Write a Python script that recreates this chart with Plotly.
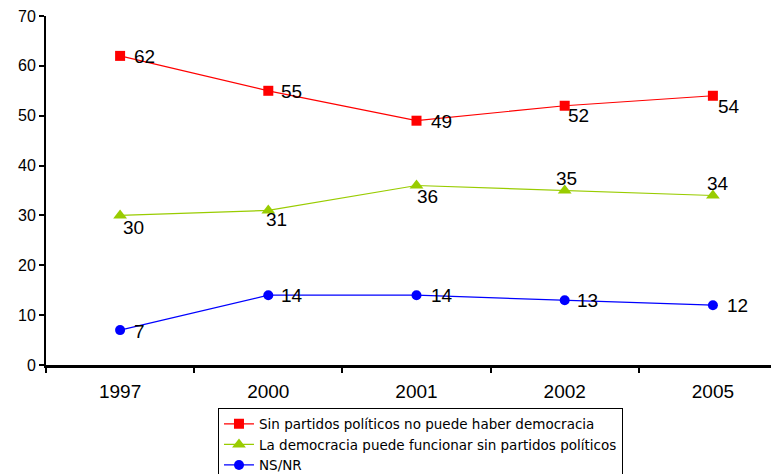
import plotly.graph_objects as go

years = ["1997", "2000", "2001", "2002", "2005"]
sin_partidos = [62, 55, 49, 52, 54]
funciona_sin = [30, 31, 36, 35, 34]
ns_nr = [7, 14, 14, 13, 12]

names = [
    "Sin partidos políticos no puede haber democracia",
    "La democracia puede funcionar sin partidos políticos",
    "NS/NR",
]
colors = ["#FF0000", "#99CC00", "#0000FF"]
symbols = ["square", "triangle-up", "circle"]
series = [sin_partidos, funciona_sin, ns_nr]

# label offsets (px, right / down) per point
offsets = [
    [(24, 1), (23, 1), (25, 1), (14, 10), (16, 11)],
    [(13, 12), (8, 9), (11, 11), (2, -12), (5, -12)],
    [(19, 1), (24, 0), (25, 0), (23, 0), (25, 0)],
]

fig = go.Figure()
annotations = []
for name, col, sym, vals, offs in zip(names, colors, symbols, series, offsets):
    fig.add_trace(go.Scatter(
        x=years, y=vals, name=name, mode="lines+markers",
        line=dict(color=col, width=1.2),
        marker=dict(symbol=sym, size=10 if sym != "triangle-up" else 12, color=col),
    ))
    for i, (yv, (dx, dy)) in enumerate(zip(vals, offs)):
        annotations.append(dict(
            x=i, y=yv, xref="x", yref="y", text=str(yv), showarrow=False,
            xshift=dx, yshift=-dy,
            font=dict(size=19, color="#000000", family="Liberation Sans, Arial, sans-serif"),
        ))

fig.update_layout(
    width=779, height=474,
    margin=dict(l=38, r=0, t=8, b=117),
    paper_bgcolor="white", plot_bgcolor="white",
    font=dict(family="Liberation Sans, Arial, sans-serif", color="#000000"),
    annotations=annotations,
    showlegend=True,
    legend=dict(
        x=0.2321, y=-0.334, xanchor="left", yanchor="bottom",
        bordercolor="#000000", borderwidth=1, bgcolor="white",
        font=dict(size=13.5, color="#000000", family="DejaVu Sans, sans-serif"),
        tracegroupgap=0, itemwidth=30,
    ),
    xaxis=dict(
        type="category", range=[-0.5, 4.5], automargin=False,
        showline=True, linecolor="#000000", linewidth=2.5,
        ticks="outside", tickson="boundaries", ticklen=5, tickwidth=1.5, tickcolor="#000000",
        showgrid=False, zeroline=False, ticklabelstandoff=7,
        tickfont=dict(size=19),
    ),
    yaxis=dict(
        range=[0, 70], dtick=10, tick0=0, automargin=False,
        showline=True, linecolor="#000000", linewidth=2,
        ticks="outside", ticklen=5, tickwidth=1.5, tickcolor="#000000",
        showgrid=False, zeroline=False, ticklabeloverflow="allow",
        tickfont=dict(size=16),
    ),
)

fig.write_html("out.html")
